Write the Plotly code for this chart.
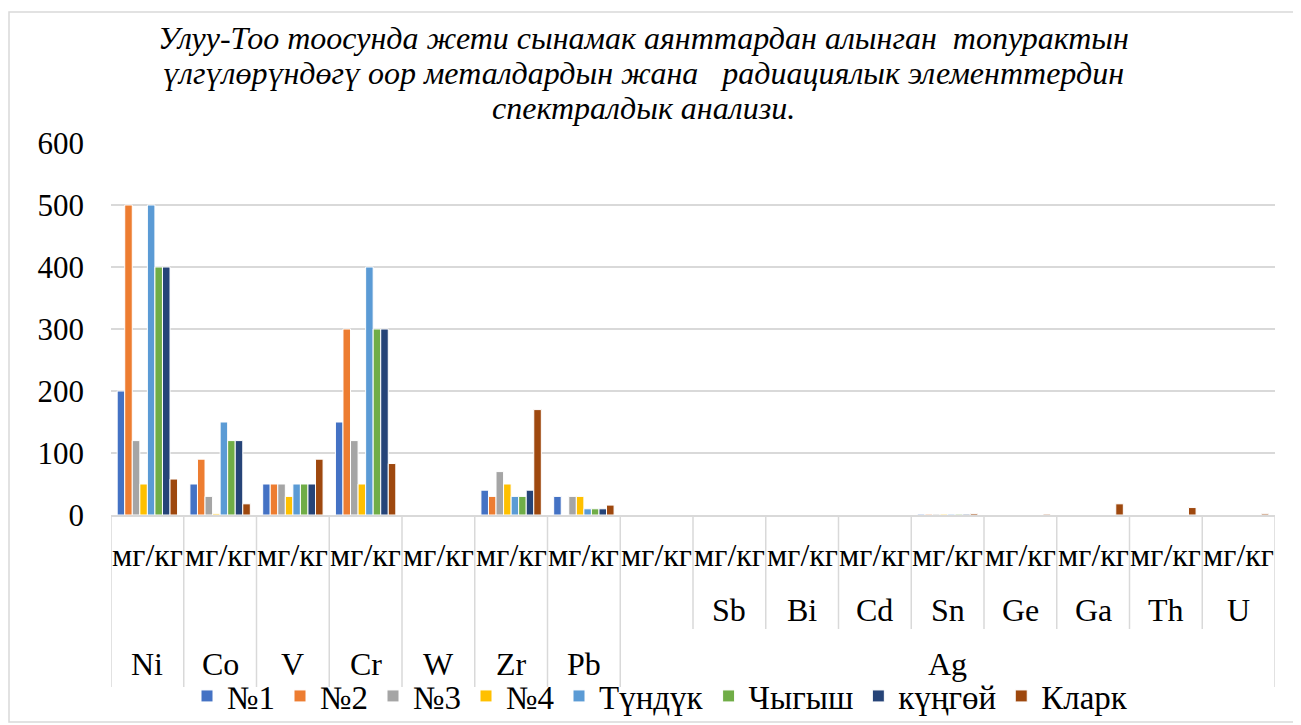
import plotly.graph_objects as go

categories = ["Ni", "Co", "V", "Cr", "W", "Zr", "Pb", "Ag", "Sb", "Bi", "Cd", "Sn", "Ge", "Ga", "Th", "U"]
unit_labels = ["мг/кг"] * 16
level2_labels = ["", "", "", "", "", "", "", "", "Sb", "Bi", "Cd", "Sn", "Ge", "Ga", "Th", "U"]
level3_labels = ["Ni", "Co", "V", "Cr", "W", "Zr", "Pb"]
level3_group_label = "Ag"

series_names = ["№1", "№2", "№3", "№4", "Түндүк", "Чыгыш", "күңгөй", "Кларк"]
s1 = [200, 50, 50, 150, 0, 40, 30, 0, 0, 0, 0, 1.5, 0, 0, 0, 0]
s2 = [500, 90, 50, 300, 0, 30, 0, 0, 0, 0, 0, 1.5, 0, 0, 0, 0]
s3 = [120, 30, 50, 120, 0, 70, 30, 0, 0, 0, 0, 1.5, 0, 0, 0, 0]
s4 = [50, 2, 30, 50, 0, 50, 30, 0, 0, 0, 0, 1.5, 0, 0, 0, 0]
s_tunduk = [500, 150, 50, 400, 0, 30, 10, 0, 0, 0, 0, 1.5, 0, 0, 0, 0]
s_chygysh = [400, 120, 50, 300, 0, 30, 10, 0, 0, 0, 0, 1.5, 0, 0, 0, 0]
s_kungoy = [400, 120, 50, 300, 0, 40, 10, 0, 0, 0, 0, 1.5, 0, 0, 0, 0]
s_klark = [58, 18, 90, 83, 0, 170, 16, 0, 0, 0, 0, 2.5, 1.5, 18, 12, 2]
series_values = [s1, s2, s3, s4, s_tunduk, s_chygysh, s_kungoy, s_klark]
colors = ["#4472C4", "#ED7D31", "#A5A5A5", "#FFC000", "#5B9BD5", "#70AD47", "#264478", "#9E480E"]

title_lines = ["Улуу-Тоо тоосунда жети сынамак аянттардан алынган\u00a0 топурактын",
               "үлгүлөрүндөгү оор металдардын жана\u00a0\u00a0 радиациялык элементтердин",
               "спектралдык анализи."]

FONT = "Times New Roman, Liberation Serif, serif"
OFF = 8  # page body margin
W, H = 1301 - OFF, 725 - OFF
# plot area in page pixels: x 111..1275, y 143..515
L = 111 - OFF
T = 143 - OFF
R = W - (1275 - OFF)
B = H - (515 - OFF)
pw, ph = W - L - R, H - T - B

def px_x(p):  # page pixel -> paper x
    return (p - 111) / pw

def px_y(p):  # page pixel -> paper y
    return (515 - p) / ph

fig = go.Figure()
for name, vals, c in zip(series_names, series_values, colors):
    fig.add_trace(go.Bar(x=categories, y=vals, name=name,
                         marker=dict(color=c, line=dict(color="white", width=1))))

annotations = []
shapes = []
n = len(categories)
LBL = 32
for i in range(n):
    annotations.append(dict(x=i, y=px_y(555), xref="x", yref="paper", text=unit_labels[i],
                            showarrow=False, font=dict(family=FONT, size=LBL, color="black"),
                            xanchor="center", yanchor="middle"))
    if level2_labels[i]:
        annotations.append(dict(x=i, y=px_y(610), xref="x", yref="paper", text=level2_labels[i],
                                showarrow=False, font=dict(family=FONT, size=LBL, color="black"),
                                xanchor="center", yanchor="middle"))
for i, lab in enumerate(level3_labels):
    annotations.append(dict(x=i, y=px_y(664), xref="x", yref="paper", text=lab,
                            showarrow=False, font=dict(family=FONT, size=LBL, color="black"),
                            xanchor="center", yanchor="middle"))
annotations.append(dict(x=(7 + n - 1) / 2, y=px_y(664), xref="x", yref="paper", text=level3_group_label,
                        showarrow=False, font=dict(family=FONT, size=LBL, color="black"),
                        xanchor="center", yanchor="middle"))
for k, (line, yc) in enumerate(zip(title_lines, [38, 73, 108])):
    annotations.append(dict(x=px_x(643), y=px_y(yc), xref="paper", yref="paper",
                            text="<i>" + line + "</i>", showarrow=False,
                            font=dict(family=FONT, size=32, color="black"),
                            xanchor="center", yanchor="middle"))

# separator lines of the multi-level category axis
for k in range(n + 1):
    xb = k - 0.5
    if k <= 7 or k == n:
        yend = px_y(687)
    else:
        yend = px_y(629)
    shapes.append(dict(type="line", xref="x", yref="paper", x0=xb, x1=xb, y0=0, y1=yend,
                       line=dict(color="#d9d9d9", width=1.5)))
# outer chart border
shapes.append(dict(type="rect", xref="paper", yref="paper", x0=px_x(9), x1=px_x(1298),
                   y0=px_y(722), y1=px_y(12), line=dict(color="#d9d9d9", width=1.5)))

fig.update_layout(
    width=W, height=H,
    margin=dict(l=L, r=R, t=T, b=B, autoexpand=False),
    paper_bgcolor="white", plot_bgcolor="white",
    barmode="group", bargap=0.17, bargroupgap=0,
    font=dict(family=FONT, color="black"),
    showlegend=True,
    legend=dict(orientation="h", x=px_x(660), y=px_y(696), xanchor="center", yanchor="middle",
                font=dict(family=FONT, size=33, color="black"), bgcolor="rgba(0,0,0,0)"),
    annotations=annotations, shapes=shapes,
)
fig.update_xaxes(type="category", showticklabels=False, showgrid=False, ticks="",
                 showline=True, linecolor="#d9d9d9", linewidth=1.5, range=[-0.5, n - 0.5])
fig.update_yaxes(range=[0, 600], dtick=100, showgrid=True, gridcolor="#d9d9d9", gridwidth=1.5,
                 zeroline=False, showline=False, ticks="", ticklabelstandoff=26,
                 tickfont=dict(family=FONT, size=31, color="black"))

fig.write_html("out.html")
